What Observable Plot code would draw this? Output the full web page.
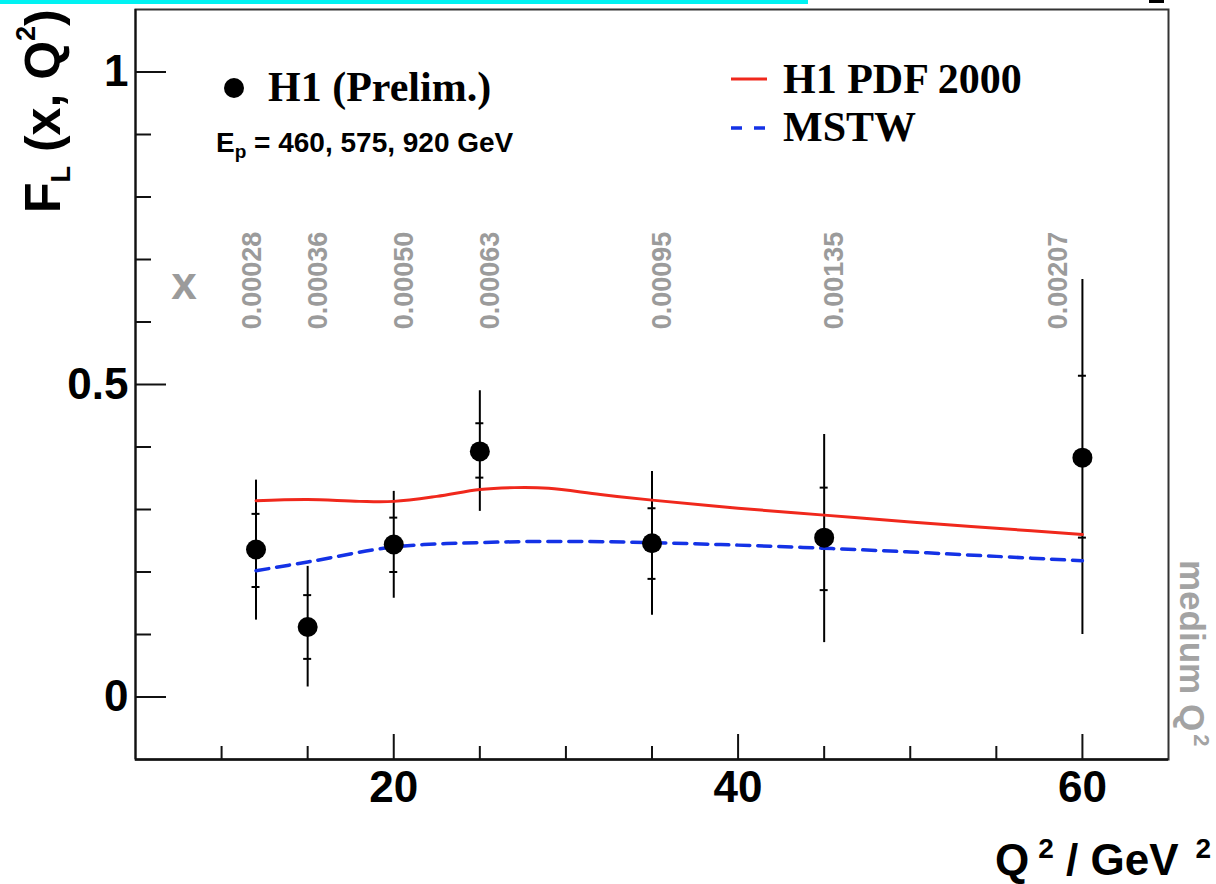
<!DOCTYPE html>
<html>
<head>
<meta charset="utf-8">
<script src="https://cdn.jsdelivr.net/npm/d3@7"></script>
<script src="https://cdn.jsdelivr.net/npm/@observablehq/plot@0.6"></script>
<style>
  html, body { margin: 0; padding: 0; background: #fff; overflow: hidden; }
  #chart svg { display: block; }
</style>
</head>
<body>
<div id="chart"></div>
<script>
// ---- data ----
const Q2 = [12, 15, 20, 25, 35, 45, 60];
const FL = [0.236, 0.112, 0.244, 0.393, 0.246, 0.255, 0.383];
const TOT_LO = [0.123, 0.016, 0.158, 0.297, 0.131, 0.087, 0.100];
const TOT_HI = [0.347, 0.209, 0.329, 0.490, 0.361, 0.420, 0.668];
const STAT_LO = [0.176, 0.061, 0.200, 0.351, 0.189, 0.171, 0.255];
const STAT_HI = [0.293, 0.163, 0.287, 0.438, 0.302, 0.335, 0.514];
const X_BINS = ["0.00028", "0.00036", "0.00050", "0.00063", "0.00095", "0.00135", "0.00207"];

const H1_Q2 = [12, 15, 18, 20, 22.5, 25, 27, 29, 32, 35, 40, 45, 50, 55, 60];
const H1_FL = [0.314, 0.316, 0.313, 0.313, 0.321, 0.332, 0.335, 0.334, 0.324, 0.315, 0.302, 0.291, 0.280, 0.270, 0.260];
const MSTW_Q2 = [12, 15, 20, 25, 30, 35, 40, 45, 50, 55, 60];
const MSTW_FL = [0.202, 0.216, 0.240, 0.247, 0.249, 0.247, 0.243, 0.238, 0.232, 0.225, 0.218];

const X_DOMAIN = [5, 65];
const Y_DOMAIN = [-0.1, 1.1];
const X_MAJOR = [20, 40, 60];
const X_MINOR = [10, 15, 25, 30, 35, 45, 50, 55];
const Y_MAJOR = [0, 0.5, 1];
const Y_MINOR = [0.1, 0.2, 0.3, 0.4, 0.6, 0.7, 0.8, 0.9];

// ---- tables built from the arrays ----
const rows = Q2.map((q, i) => ({q2: q, fl: FL[i], lo: TOT_LO[i], hi: TOT_HI[i], slo: STAT_LO[i], shi: STAT_HI[i], label: X_BINS[i]}));
const h1 = H1_Q2.map((q, i) => ({q2: q, fl: H1_FL[i]}));
const mstw = MSTW_Q2.map((q, i) => ({q2: q, fl: MSTW_FL[i]}));

const SANS = "'Liberation Sans', Arial, Helvetica, sans-serif";
const SERIF = "'Liberation Serif', 'Times New Roman', Times, serif";
const RED = "#f0281c";
const BLUE = "#1432e6";
const GREY = "#9b9b9b";

const W = 1216, H = 884;
const M = {left: 135, top: 9, right: 48, bottom: 125};
const FW = W - M.left - M.right;   // frame width
const FH = H - M.top - M.bottom;   // frame height

const grayLabel = {x: "q2", text: "label", frameAnchor: "top", dy: 271, rotate: -90,
  textAnchor: "middle", fontSize: 27, fontWeight: "bold", fill: GREY, fontFamily: SANS};

function txt(g, font, size, weight = "bold") {
  return g.append("text").attr("text-anchor", "start").attr("font-family", font)
    .attr("font-weight", weight).attr("font-size", size).attr("fill", "#000");
}

function decorations(index, scales, values, dim) {
  const g = d3.create("svg:g");
  const L = dim.marginLeft, T = dim.marginTop;
  // slide artefacts at the very top
  g.append("rect").attr("x", 0).attr("y", 0).attr("width", 808).attr("height", 4).attr("fill", "#00f2f2");
  g.append("rect").attr("x", 1149).attr("y", 0).attr("width", 15).attr("height", 3).attr("fill", "#000");

  // left legend: data marker
  g.append("circle").attr("cx", L + 99).attr("cy", T + 79).attr("r", 10).attr("fill", "#000");
  txt(g, SERIF, 42).attr("x", L + 133).attr("y", T + 92).text("H1 (Prelim.)");
  const ep = txt(g, SANS, 28).attr("x", L + 81).attr("y", T + 143);
  ep.append("tspan").text("E");
  ep.append("tspan").attr("font-size", 19).attr("dy", 6).text("p");
  ep.append("tspan").attr("dy", -6).text(" = 460, 575, 920 GeV");

  // right legend: curves
  g.append("line").attr("x1", 731).attr("x2", 767).attr("y1", T + 70).attr("y2", T + 70)
    .attr("stroke", RED).attr("stroke-width", 3);
  txt(g, SERIF, 42).attr("x", 783).attr("y", T + 84).text("H1 PDF 2000");
  g.append("line").attr("x1", 731).attr("x2", 767).attr("y1", T + 119).attr("y2", T + 119)
    .attr("stroke", BLUE).attr("stroke-width", 3.5).attr("stroke-dasharray", "11,12");
  txt(g, SERIF, 42).attr("x", 783).attr("y", T + 132).text("MSTW");

  // y-axis title F_L (x, Q^2)
  const yt = txt(g, SANS, 50).attr("transform", "translate(60,213) rotate(-90)");
  yt.append("tspan").text("F");
  yt.append("tspan").attr("font-size", 27).attr("dy", 10).text("L");
  yt.append("tspan").attr("dy", -10).text(" (x, Q");
  yt.append("tspan").attr("font-size", 27).attr("dy", -25).text("2");
  yt.append("tspan").attr("dy", 25).text(")");

  // x-axis title Q^2 / GeV^2
  const xt = txt(g, SANS, 44).attr("x", 995).attr("y", 875);
  xt.append("tspan").text("Q");
  xt.append("tspan").attr("font-size", 28).attr("dx", 9).attr("dy", -17).text("2");
  xt.append("tspan").attr("dy", 17).text(" / GeV");
  xt.append("tspan").attr("font-size", 28).attr("dx", 17).attr("dy", -17).text("2");

  // side label "medium Q^2"
  const side = txt(g, SANS, 35).attr("fill", "#a3a3a3").attr("transform", "translate(1180,560) rotate(90)");
  side.append("tspan").text("medium Q");
  side.append("tspan").attr("font-size", 22).attr("dy", -14).attr("dx", 3).text("2");

  // grey "x" heading of the bin labels
  txt(g, SANS, 46).attr("text-anchor", "middle").attr("fill", GREY)
    .attr("x", L + 49).attr("y", T + 290).text("x");
  return g.node();
}

const chart = Plot.plot({
  width: W, height: H,
  marginLeft: M.left, marginTop: M.top, marginRight: M.right, marginBottom: M.bottom,
  x: {domain: X_DOMAIN},
  y: {domain: Y_DOMAIN},
  style: {fontFamily: SANS, background: "#fff", overflow: "visible"},
  marks: [
    Plot.frame({stroke: "#333", strokeWidth: 2}),
    Plot.ruleY([Y_DOMAIN[0]], {stroke: "#111", strokeWidth: 2.6}),
    Plot.ruleX([X_DOMAIN[0]], {stroke: "#111", strokeWidth: 2}),
    // inward ticks
    Plot.ruleY(Y_MAJOR, {stroke: "#111", strokeWidth: 2, insetRight: FW - 31}),
    Plot.ruleY(Y_MINOR, {stroke: "#111", strokeWidth: 2, insetRight: FW - 16}),
    Plot.ruleX(X_MAJOR, {stroke: "#111", strokeWidth: 2, insetTop: FH - 25}),
    Plot.ruleX(X_MINOR, {stroke: "#111", strokeWidth: 2, insetTop: FH - 13}),
    // tick labels
    Plot.axisY(Y_MAJOR, {tickSize: 0, tickPadding: 7, fontSize: 44, fontWeight: "bold", fill: "#000", label: null, tickFormat: d => `${d}`}),
    Plot.axisX(X_MAJOR, {tickSize: 0, tickPadding: 11, fontSize: 44, fontWeight: "bold", fill: "#000", label: null, tickFormat: d => `${d}`}),
    // x-bin labels
    Plot.text(rows.slice(1, -1), grayLabel),
    Plot.text(rows.slice(0, 1), {...grayLabel, dx: -14}),
    Plot.text(rows.slice(-1), {...grayLabel, dx: -35}),
    // error bars
    Plot.ruleX(rows, {x: "q2", y1: "lo", y2: "hi", stroke: "#000", strokeWidth: 2}),
    Plot.ruleY(rows, {y: "shi", x1: "q2", x2: "q2", insetLeft: -4, insetRight: -4, stroke: "#000", strokeWidth: 2}),
    Plot.ruleY(rows, {y: "slo", x1: "q2", x2: "q2", insetLeft: -4, insetRight: -4, stroke: "#000", strokeWidth: 2}),
    // theory curves
    Plot.line(h1, {x: "q2", y: "fl", stroke: RED, strokeWidth: 3, curve: "catmull-rom"}),
    Plot.line(mstw, {x: "q2", y: "fl", stroke: BLUE, strokeWidth: 3.5, strokeDasharray: "13,8", curve: "catmull-rom"}),
    // data points
    Plot.dot(rows, {x: "q2", y: "fl", r: 10, fill: "#000", stroke: "none"}),
    decorations
  ]
});
document.getElementById("chart").appendChild(chart);
</script>
</body>
</html>
